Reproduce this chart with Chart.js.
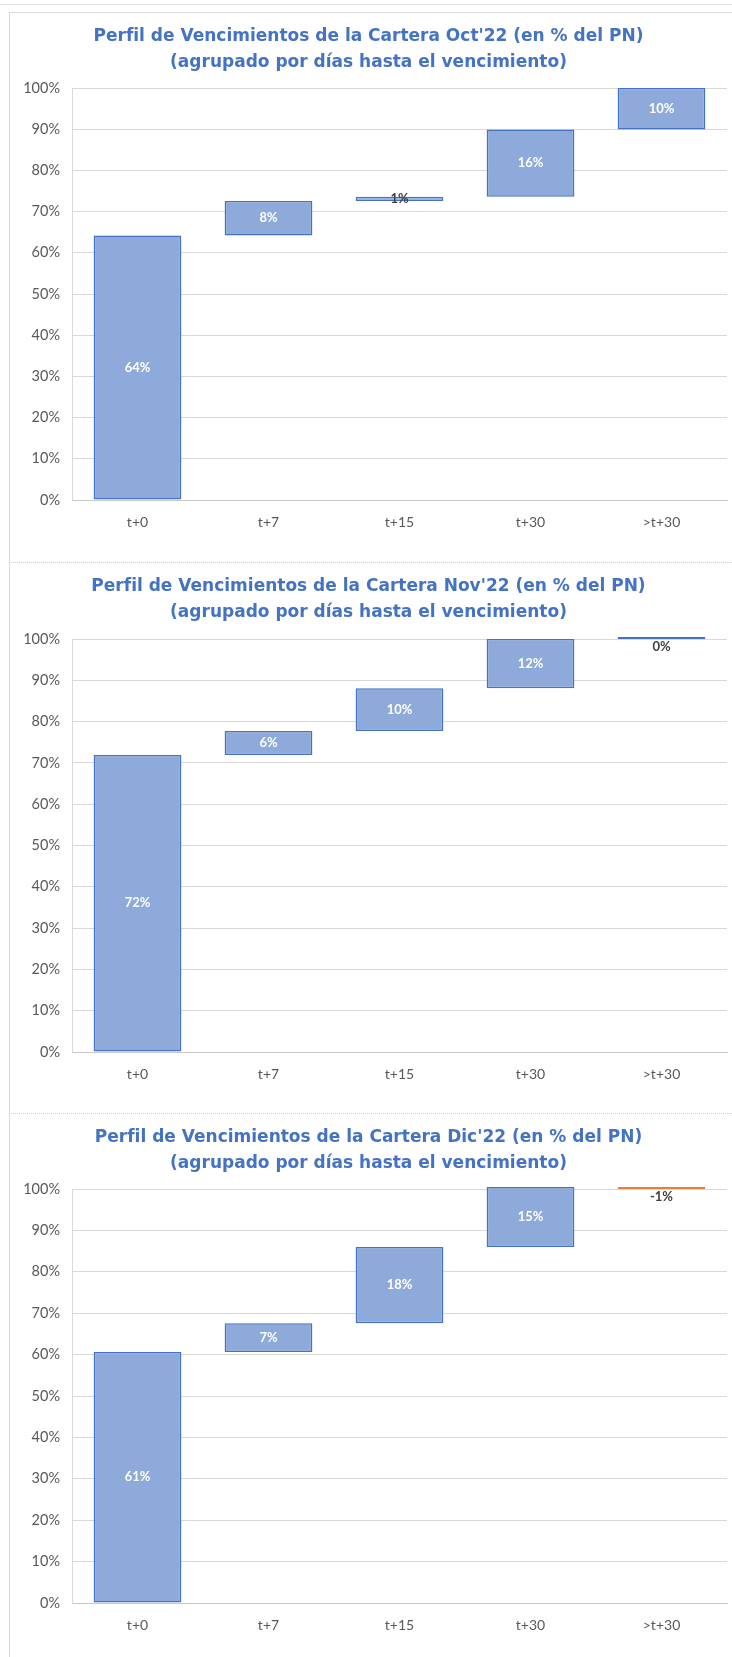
<!DOCTYPE html>
<html lang="es">
<head>
  <meta charset="UTF-8" />
  <title>Perfil de Vencimientos de la Cartera</title>
  <script src="https://cdn.jsdelivr.net/npm/chart.js"></script>
  <style>
    body {
      margin: 0;
      background: #ffffff;
      width: 732px;
      height: 1657px;
      position: relative;
      overflow: hidden;
    }
    .topline {
      position: absolute;
      left: 0; top: 4px;
      width: 732px; height: 0;
      border-top: 1px solid #e3e3e3;
    }
    .panel {
      position: absolute;
      left: 9px;
      width: 723px;
      border-left: 1px solid #d9d9d9;
      box-sizing: border-box;
    }
    #p1 { top: 12px; height: 550px; border-top: 1px solid #d9d9d9; }
    #p2 { top: 562px; height: 551px; border-top: 1px dotted #cfcfcf; }
    #p3 { top: 1113px; height: 544px; border-top: 1px dotted #cfcfcf; }
    canvas { display: block; }
  </style>
</head>
<body>
<div class="topline"></div>
<div class="panel" id="p1"><canvas id="chartOct" width="722" height="549"></canvas></div>
<div class="panel" id="p2"><canvas id="chartNov" width="722" height="550"></canvas></div>
<div class="panel" id="p3"><canvas id="chartDic" width="722" height="543"></canvas></div>

<script>
// datos (en % del PN)
const categories = ['t+0', 't+7', 't+15', 't+30', '>t+30'];
const octValues = [64.2, 8.4, 1.0, 16.3, 10.1];
const novValues = [71.9, 5.8, 10.4, 11.9, 0];
const dicValues = [60.6, 7.0, 18.4, 14.6, -0.6];
const yTickValues = [0, 10, 20, 30, 40, 50, 60, 70, 80, 90, 100];
const subtitle = '(agrupado por días hasta el vencimiento)';
const titleOct = "Perfil de Vencimientos de la Cartera Oct'22 (en % del PN)";
const titleNov = "Perfil de Vencimientos de la Cartera Nov'22 (en % del PN)";
const titleDic = "Perfil de Vencimientos de la Cartera Dic'22 (en % del PN)";

// etiquetas de datos (64%, 8%, ...)
const barLabels = {
  id: 'barLabels',
  afterDatasetsDraw(chart) {
    const ctx = chart.ctx;
    const ds = chart.data.datasets[0];
    const meta = chart.getDatasetMeta(0);
    ctx.save();
    ctx.font = 'bold 13px Lato, sans-serif';
    ctx.textAlign = 'center';
    ctx.textBaseline = 'middle';
    meta.data.forEach((bar, i) => {
      const v = ds.values[i];
      const txt = Math.round(v) + '%';
      const top = Math.min(bar.y, bar.base);
      const bottom = Math.max(bar.y, bar.base);
      let y = (top + bottom) / 2;
      if (v <= 0) y = bottom + 8;
      ctx.fillStyle = Math.abs(v) >= 2 ? '#ffffff' : '#404040';
      ctx.fillText(txt, bar.x, y);
    });
    ctx.restore();
  }
};

function waterfall(values) {
  let sum = 0;
  return values.map(v => {
    const start = sum;
    sum += v;
    return [start, sum];
  });
}

function makeChart(id, title, values, titlePad, axisH) {
  const fills = values.map(v => v > 0 ? '#8eaadb' : (v < 0 ? '#ed7d31' : '#4472c4'));
  const borders = values.map(v => v < 0 ? '#ed7d31' : '#4472c4');
  new Chart(document.getElementById(id), {
    type: 'bar',
    data: {
      labels: categories,
      datasets: [{
        data: waterfall(values),
        values: values,
        backgroundColor: fills,
        borderColor: borders,
        borderWidth: 1.5,
        borderSkipped: false,
        minBarLength: 3,
        categoryPercentage: 1,
        barPercentage: 0.67,
        clip: 2
      }]
    },
    options: {
      responsive: false,
      animation: false,
      layout: { padding: { left: 0, right: 5, top: 0, bottom: 0 } },
      plugins: {
        legend: { display: false },
        tooltip: { enabled: false },
        title: {
          display: true,
          text: [title, subtitle],
          color: '#4472c4',
          font: { family: '"DejaVu Sans", sans-serif', size: 17, weight: 'bold', lineHeight: 1.5 },
          padding: titlePad
        }
      },
      scales: {
        x: {
          grid: { display: false, drawTicks: false },
          border: { display: true, color: '#c8c8c8' },
          ticks: { color: '#595959', font: { family: 'Lato, sans-serif', size: 14 }, padding: 14 },
          afterFit(scale) { scale.height = axisH; }
        },
        y: {
          min: 0,
          max: 100,
          afterBuildTicks(scale) { scale.ticks = yTickValues.map(v => ({ value: v })); },
          grid: { color: '#d9d9d9', drawTicks: false },
          border: { display: true, color: '#d9d9d9' },
          ticks: {
            color: '#595959',
            font: { family: 'Lato, sans-serif', size: 14.5 },
            padding: 12,
            callback: v => v + '%'
          },
          afterFit(scale) { scale.width = 62; }
        }
      }
    },
    plugins: [barLabels]
  });
}

makeChart('chartOct', titleOct, octValues, { top: 11, bottom: 13 }, 62);
makeChart('chartNov', titleNov, novValues, { top: 11, bottom: 14 }, 61);
makeChart('chartDic', titleDic, dicValues, { top: 11, bottom: 13 }, 54);
</script>
</body>
</html>
